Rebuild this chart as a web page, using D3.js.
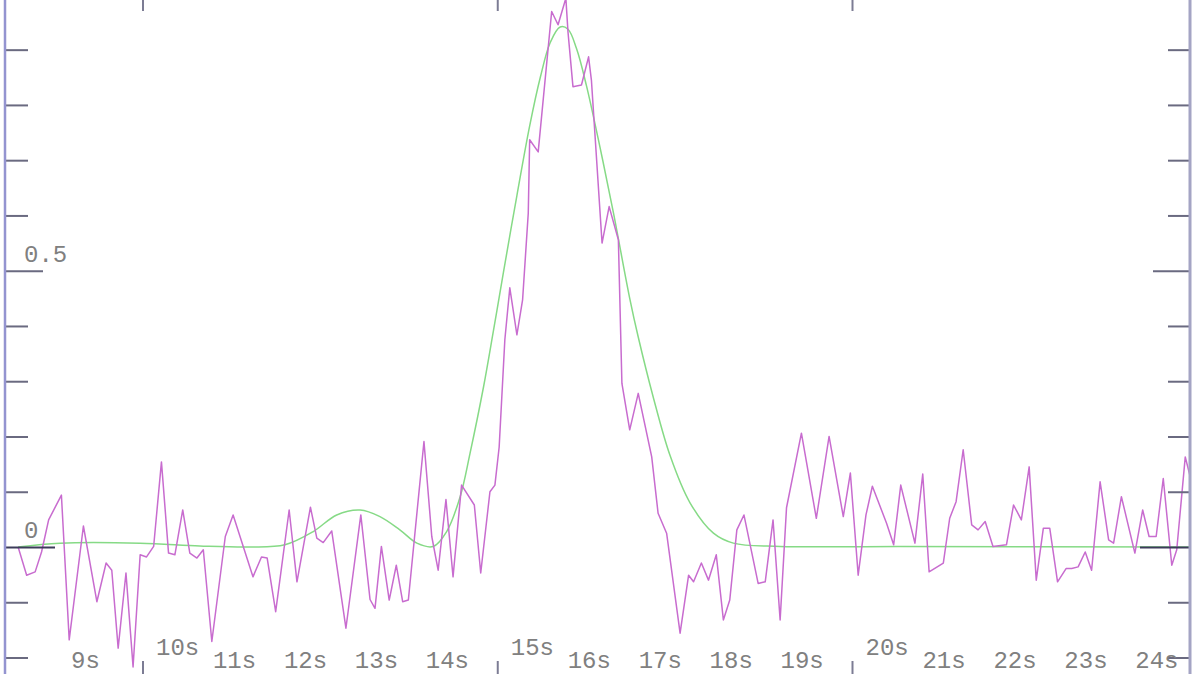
<!DOCTYPE html>
<html>
<head>
<meta charset="utf-8">
<script src="https://cdn.jsdelivr.net/npm/d3@7"></script>
<style>
  body { margin: 0; background: #fff; }
  svg { display: block; }
  text { font-family: "Liberation Mono", "DejaVu Sans Mono", monospace; }
</style>
</head>
<body>
<div id="chart"></div>
<script>
var sigTime = [8.24,8.36,8.48,8.57,8.67,8.85,8.96,9.16,9.35,9.48,9.56,9.65,9.76,9.86,9.96,
  10.05,10.15,10.26,10.36,10.45,10.56,10.66,10.76,10.85,10.97,11.16,11.27,11.55,11.67,11.75,11.87,
  12.06,12.17,12.36,12.45,12.54,12.66,12.86,13.07,13.20,13.27,13.36,13.47,13.57,13.66,13.74,13.96,
  14.07,14.16,14.27,14.37,14.49,14.67,14.76,14.89,14.96,15.02,15.10,15.17,15.27,15.35,15.43,15.45,
  15.57,15.76,15.85,15.96,15.99,16.06,16.18,16.28,16.32,16.47,16.57,16.70,16.75,16.86,16.98,17.17,
  17.26,17.38,17.57,17.69,17.76,17.87,17.97,18.08,18.18,18.27,18.37,18.47,18.67,18.77,18.88,18.98,
  19.07,19.28,19.49,19.67,19.87,19.97,20.08,20.19,20.28,20.48,20.58,20.68,20.88,20.99,21.08,21.28,
  21.37,21.46,21.56,21.68,21.77,21.87,21.98,22.17,22.27,22.38,22.49,22.59,22.69,22.78,22.89,23.01,
  23.09,23.18,23.28,23.37,23.49,23.61,23.68,23.79,23.98,24.09,24.18,24.28,24.38,24.50,24.57,24.69,24.76];
var sigValue = [0.000,-0.051,-0.045,-0.009,0.049,0.094,-0.168,0.038,-0.099,-0.029,-0.042,-0.183,-0.047,-0.217,-0.014,
  -0.018,0.001,0.154,-0.011,-0.014,0.067,-0.011,-0.020,-0.005,-0.171,0.019,0.058,-0.054,-0.018,-0.020,-0.117,
  0.067,-0.063,0.072,0.016,0.008,0.029,-0.147,0.058,-0.095,-0.111,0.001,-0.096,-0.033,-0.099,-0.096,0.191,
  0.019,-0.042,0.086,-0.054,0.112,0.076,-0.047,0.100,0.112,0.181,0.375,0.469,0.384,0.447,0.604,0.737,
  0.715,0.969,0.945,0.993,0.932,0.833,0.836,0.887,0.845,0.550,0.616,0.556,0.296,0.212,0.278,0.163,
  0.061,0.025,-0.156,-0.051,-0.063,-0.029,-0.060,-0.014,-0.132,-0.096,0.031,0.058,-0.066,-0.063,0.049,-0.132,
  0.071,0.206,0.052,0.200,0.055,0.134,-0.051,0.058,0.110,0.043,0.004,0.112,0.007,0.132,-0.045,-0.029,
  0.052,0.082,0.176,0.040,0.031,0.046,0.001,0.004,0.076,0.049,0.145,-0.060,0.034,0.034,-0.063,-0.039,
  -0.039,-0.036,-0.009,-0.042,0.118,0.013,0.007,0.091,-0.011,0.067,0.019,0.019,0.124,-0.033,-0.005,0.163,0.127];

// fitted curve (green)
var fitTime = [8.24,8.83,9.96,10.80,11.51,12.00,12.40,12.73,13.06,13.34,13.62,13.86,14.09,14.28,14.47,
  14.61,14.80,14.94,15.08,15.27,15.45,15.60,15.74,15.88,15.99,16.11,16.25,16.44,16.63,16.86,16.98,
  17.19,17.43,17.71,18.04,18.32,18.98,20.67,24.76];
var fitValue = [0.000,0.007,0.007,0.002,0.000,0.004,0.028,0.058,0.067,0.055,0.031,0.007,0.001,0.028,0.091,
  0.170,0.290,0.392,0.497,0.636,0.762,0.850,0.913,0.941,0.937,0.902,0.835,0.724,0.605,0.450,0.380,
  0.272,0.165,0.080,0.025,0.007,0.001,0.001,0.000];

var xTicks = [9,10,11,12,13,14,15,16,17,18,19,20,21,22,23,24];
var majorTicks = [10,15,20];
var yTicks = [-0.2,-0.1,0,0.1,0.2,0.3,0.4,0.5,0.6,0.7,0.8,0.9,1.0];
var yLabels = [0, 0.5];

var width = 1200, height = 674;
var leftX = 5, rightX = 1190;

var svg = d3.select('#chart').append('svg')
  .attr('width', width)
  .attr('height', height);

// scales
var x = d3.scaleLinear().domain([10, 20]).range([143, 852.5]);
var y = d3.scaleLinear().domain([0, 0.5]).range([547, 270.7]);

var sig = sigTime.map(function(t, i){ return [t, sigValue[i]]; });
var fit = fitTime.map(function(t, i){ return [t, fitValue[i]]; });

// green fit
svg.append('path')
  .datum(fit)
  .attr('fill', 'none')
  .attr('stroke', '#86da86')
  .attr('stroke-width', 1.5)
  .attr('d', d3.line().x(d => x(d[0])).y(d => y(d[1])).curve(d3.curveCatmullRom.alpha(0.5)));

// purple signal
svg.append('path')
  .datum(sig)
  .attr('fill', 'none')
  .attr('stroke', '#c86ccf')
  .attr('stroke-width', 1.5)
  .attr('stroke-linejoin', 'round')
  .attr('d', d3.line().x(d => x(d[0])).y(d => y(d[1])));

// left axis (ticks pointing inward)
var leftAxis = svg.append('g')
  .attr('transform', 'translate(' + leftX + ',0)')
  .call(d3.axisRight(y).tickValues(yTicks).tickSize(23).tickFormat(''));
leftAxis.select('.domain').remove();
leftAxis.selectAll('.tick line')
  .attr('stroke-width', 2)
  .attr('x2', d => d === 0 ? 50 : (d === 0.5 ? 38 : 23))
  .attr('stroke', d => d === 0 ? '#3c3c5a' : '#6a6a80');
svg.append('line')
  .attr('x1', leftX).attr('x2', leftX).attr('y1', 0).attr('y2', height)
  .attr('stroke', '#9494d0').attr('stroke-width', 2.5);

// right axis
var rightAxis = svg.append('g')
  .attr('transform', 'translate(' + rightX + ',0)')
  .call(d3.axisLeft(y).tickValues(yTicks).tickSize(22).tickFormat(''));
rightAxis.select('.domain').remove();
rightAxis.selectAll('.tick line')
  .attr('stroke-width', 2)
  .attr('x2', d => d === 0 ? -50 : (d === 0.5 ? -37 : -22))
  .attr('stroke', d => d === 0 ? '#3c3c5a' : '#6a6a80');
svg.append('line')
  .attr('x1', rightX).attr('x2', rightX).attr('y1', 0).attr('y2', height)
  .attr('stroke', '#a4a4c4').attr('stroke-width', 3);

// y labels
svg.selectAll('.ylab')
  .data(yLabels)
  .enter().append('text')
  .attr('class', 'ylab')
  .attr('x', 24)
  .attr('y', d => y(d) - 9)
  .attr('font-size', 24)
  .attr('fill', '#808080')
  .text(d => d);

// top major tick marks
svg.selectAll('.topTick')
  .data(majorTicks)
  .enter().append('line')
  .attr('x1', d => x(d)).attr('x2', d => x(d))
  .attr('y1', 0).attr('y2', 11)
  .attr('stroke', '#7c7c94').attr('stroke-width', 2);

// bottom major tick marks
svg.selectAll('.botTick')
  .data(majorTicks)
  .enter().append('line')
  .attr('x1', d => x(d)).attr('x2', d => x(d))
  .attr('y1', 661).attr('y2', height)
  .attr('stroke', '#7c7c94').attr('stroke-width', 2);

// x labels
svg.selectAll('.xlab')
  .data(xTicks)
  .enter().append('text')
  .attr('class', 'xlab')
  .attr('x', d => majorTicks.indexOf(d) >= 0 ? x(d) + 13 : x(d) - 1)
  .attr('y', d => majorTicks.indexOf(d) >= 0 ? 655 : 668)
  .attr('font-size', 24)
  .attr('fill', '#808080')
  .text(d => d + 's');
</script>
</body>
</html>
